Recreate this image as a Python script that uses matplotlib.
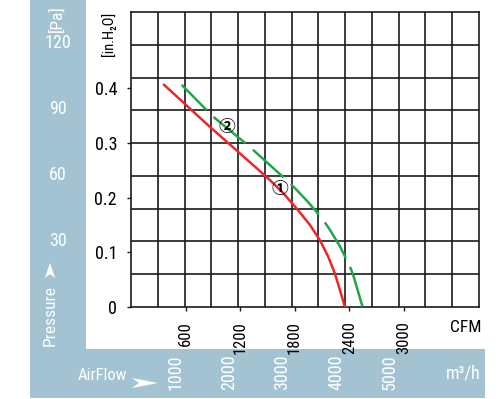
import numpy as np
import matplotlib
matplotlib.use('Agg')
import matplotlib.pyplot as plt
from matplotlib import font_manager
from matplotlib.patches import Rectangle, Polygon
from matplotlib.transforms import blended_transform_factory

# 細いフォントを探す（無ければ Liberation Sans）
narrow_file = None
files = [f.fname for f in font_manager.fontManager.ttflist]
for key in ['LiberationSansNarrow-Regular', 'RobotoCondensed-Regular', 'DejaVuSansCondensed.ttf',
            'Roboto_Condensed', 'LiberationSans-Regular']:
    hit = [p for p in files if key in p]
    if hit:
        narrow_file = hit[0]
        break


def nf(size):
    if narrow_file:
        return font_manager.FontProperties(fname=narrow_file, size=size)
    return font_manager.FontProperties(family='Liberation Sans', size=size)


CIRCLE = ['Noto Sans CJK JP', 'DejaVu Sans']

# データ（CFM / inH2O）
red_cfm = [363, 868, 1121, 1527, 1674, 1821, 1967, 2077, 2168, 2242, 2297, 2352]
red_inh2o = [0.406, 0.329, 0.292, 0.232, 0.208, 0.180, 0.150, 0.122, 0.092, 0.061, 0.031, 0.0]
green_cfm = [557, 901, 1289, 1729, 1821, 1967, 2113, 2187, 2300, 2407, 2443, 2546]
green_inh2o = [0.406, 0.348, 0.295, 0.229, 0.214, 0.188, 0.159, 0.141, 0.110, 0.074, 0.0585, 0.0]

cfm_ticks = [600, 1200, 1800, 2400, 3000]
inh2o_ticks = [0, 0.1, 0.2, 0.3, 0.4]
inh2o_labels = ['0', '0.1', '0.2', '0.3', '0.4']
pa_ticks = [30, 60, 90, 120]
m3h_ticks = [1000, 2000, 3000, 4000, 5000]

W, H = 501, 399
band = '#a3c3d3'
red = '#e8282b'
green = '#1fa74a'
gridc = '#1a1a1a'


def fx(x):
    return x / W


def fy(y):
    return 1 - y / H


fig = plt.figure(figsize=(W / 100, H / 100), dpi=100)
fig.patches.append(Rectangle((fx(30), fy(398)), fx(56), 398 / H, transform=fig.transFigure,
                             facecolor=band, edgecolor='none', zorder=0))
fig.patches.append(Rectangle((fx(30), fy(398)), fx(455), 49 / H, transform=fig.transFigure,
                             facecolor=band, edgecolor='none', zorder=0))

ax = fig.add_axes([fx(131), fy(307), fx(348), 295 / H])
ax.set_zorder(3)
ax.set_xlim(0, 3826)
ax.set_ylim(0, 0.539)

# グリッド（13 x 9）
for gx in np.linspace(0, 3826, 14)[1:-1]:
    ax.axvline(gx, color=gridc, lw=1.2, zorder=1)
for gy in np.linspace(0, 0.539, 10)[1:-1]:
    ax.axhline(gy, color=gridc, lw=1.2, zorder=1)
for s in ax.spines.values():
    s.set_color(gridc)
    s.set_linewidth(1.2)

ax.plot(red_cfm, red_inh2o, color=red, lw=1.8, zorder=3)
ax.plot(green_cfm, green_inh2o, color=green, lw=1.8, zorder=3, linestyle=(2.4, (16.5, 4)))

ax.text(1052, 0.3296, '②', fontsize=12, family=CIRCLE, weight='bold', ha='center', va='center', zorder=4)
ax.text(1637, 0.215, '①', fontsize=12, family=CIRCLE, weight='bold', ha='center', va='center', zorder=4)

ax.set_xticks(cfm_ticks)
ax.set_xticklabels([str(v) for v in cfm_ticks], rotation=90, fontproperties=nf(12))
ax.set_yticks(inh2o_ticks)
ax.set_yticklabels(inh2o_labels, fontproperties=nf(13))
ax.tick_params(axis='both', direction='out', length=3, width=1, color=gridc, pad=7)
for lab in ax.get_xticklabels():
    lab.set_va('top')

# 軸単位
fig.text(fx(109), fy(34), '[in.H₂O]', rotation=90, fontproperties=nf(10.5), ha='center', va='center')
fig.text(fx(466), fy(328), 'CFM', fontproperties=nf(12.5), ha='center', va='center')

# 左帯（Pa）
tr_y = blended_transform_factory(fig.transFigure, ax.transData)
for p in pa_ticks:
    fig.text(fx(58), p / 249.09, str(p), transform=tr_y, color='white', fontproperties=nf(13),
             ha='center', va='center')
fig.text(fx(57), fy(19), '[Pa]', rotation=90, color='white', fontproperties=nf(12.5),
         ha='center', va='center')
fig.text(fx(50), fy(315), 'Pressure', rotation=90, color='white', fontproperties=nf(12.5),
         ha='center', va='center')
fig.patches.append(Polygon([(fx(50), fy(263)), (fx(55), fy(278)), (fx(50), fy(274)),
                            (fx(45), fy(278))], closed=True, transform=fig.transFigure,
                           facecolor='white', edgecolor='none'))

# 下帯（m3/h）
tr_x = blended_transform_factory(ax.transData, fig.transFigure)
for m in m3h_ticks:
    fig.text(m / 1.699, fy(372), str(m), transform=tr_x, rotation=90, color='white',
             fontproperties=nf(13), ha='right', va='center')
fig.text(fx(78), fy(375), 'AirFlow', color='white', fontproperties=nf(12), ha='left', va='center')
fig.patches.append(Polygon([(fx(158), fy(383)), (fx(132), fy(378)), (fx(139), fy(383)),
                            (fx(132), fy(388))], closed=True, transform=fig.transFigure,
                           facecolor='white', edgecolor='none'))
fig.text(fx(463), fy(374), 'm³/h', color='white', fontproperties=nf(13), ha='center', va='center')

fig.savefig('out.png', dpi=100)
